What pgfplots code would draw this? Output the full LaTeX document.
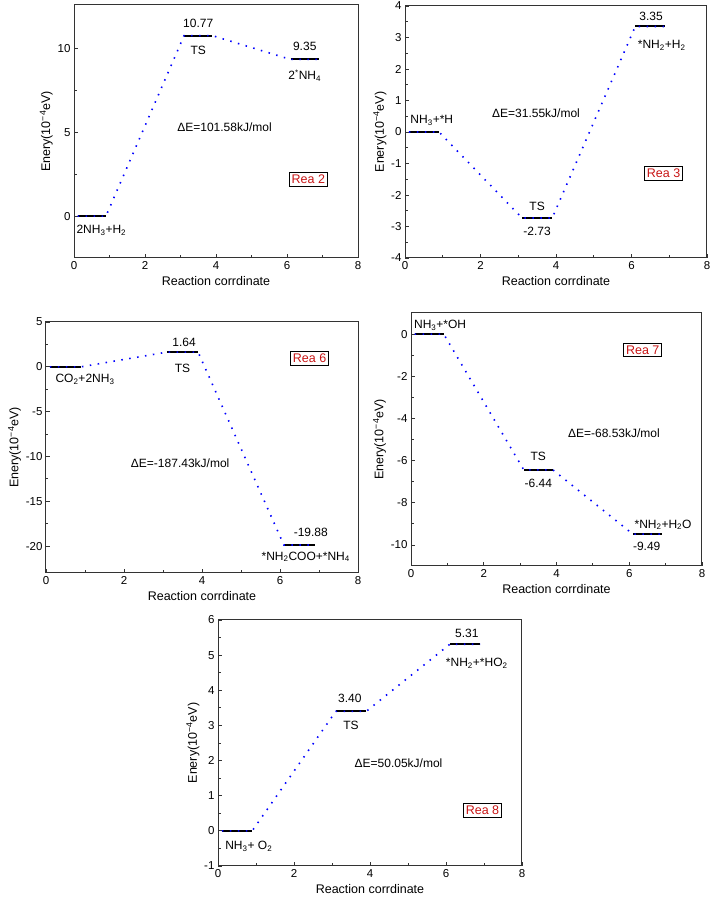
\documentclass[border=0pt]{standalone}
\usepackage{fontspec}
\setmainfont{Liberation Sans}
\usepackage{pgfplots}
\pgfplotsset{compat=1.18}
\definecolor{reared}{RGB}{200,20,20}
\pgfplotsset{
  rxn/.style={
    scale only axis, anchor=south west, clip=false,
    xmin=0, xmax=8, xtick={0,2,4,6,8}, minor x tick num=1, minor y tick num=1,
    tick pos=left, tick align=inside,
    major tick length=4pt, minor tick length=2.5pt,
    axis line style={line width=1pt, black!80},
    every tick/.style={black!80, line width=0.8pt},
    /pgf/number format/assume math mode=true,
    tick label style={font=\fontsize{11.5}{13}\selectfont},
    label style={font=\fontsize{12.5}{14}\selectfont},
    xlabel={Reaction corrdinate},
    ylabel={Enery(10\textsuperscript{−4}eV)},
    ylabel style={yshift=-2pt},
  },
  lev/.style={black, line width=2pt, forget plot},
  dots/.style={blue, line width=1.6pt, dash pattern=on 1.5pt off 6.5pt, forget plot},
}
\tikzset{
  lab/.style={font=\fontsize{12}{14}\selectfont, inner sep=0pt},
  rea/.style={draw=black, line width=1pt, text=reared, font=\fontsize{12.5}{14}\selectfont, inner sep=2.5pt},
}
\begin{document}
\begin{tikzpicture}
\useasboundingbox (0pt,0pt) rectangle (710pt,905pt);

% ---------- Rea 2 ----------
\begin{axis}[rxn, at={(74pt,647pt)}, width=284pt, height=253pt,
  ymin=-2.5, ymax=12.6, ytick={0,5,10}]
\addplot[lev] coordinates {(0.1,0)(0.9,0)};
\addplot[lev] coordinates {(3.1,10.77)(3.9,10.77)};
\addplot[lev] coordinates {(6.1,9.35)(6.9,9.35)};
\addplot[dots] coordinates {(0.1,0)(0.9,0)(3.1,10.77)(3.9,10.77)(6.1,9.35)(6.9,9.35)};
\node[lab] at (axis cs:3.5,11.53) {10.77};
\node[lab] at (axis cs:3.5,9.9) {TS};
\node[lab] at (axis cs:6.5,10.14) {9.35};
\node[lab] at (axis cs:6.5,8.4) {2\textsuperscript{*}NH\textsubscript{4}};
\node[lab] at (axis cs:0.77,-0.83) {2NH\textsubscript{3}+H\textsubscript{2}};
\node[lab] at (axis cs:4.24,5.3) {ΔE=101.58kJ/mol};
\node[rea] at (axis cs:6.6,2.2) {Rea 2};
\end{axis}

% ---------- Rea 3 ----------
\begin{axis}[rxn, at={(405pt,647pt)}, width=302pt, height=252pt,
  ymin=-4, ymax=4, ytick={-4,-3,-2,-1,0,1,2,3,4}]
\addplot[lev] coordinates {(0.1,0)(0.9,0)};
\addplot[lev] coordinates {(3.1,-2.73)(3.9,-2.73)};
\addplot[lev] coordinates {(6.1,3.35)(6.9,3.35)};
\addplot[dots] coordinates {(0.1,0)(0.9,0)(3.1,-2.73)(3.9,-2.73)(6.1,3.35)(6.9,3.35)};
\node[lab] at (axis cs:6.52,3.68) {3.35};
\node[lab] at (axis cs:6.8,2.76) {*NH\textsubscript{2}+H\textsubscript{2}};
\node[lab] at (axis cs:0.71,0.38) {NH\textsubscript{3}+*H};
\node[lab] at (axis cs:3.5,-2.37) {TS};
\node[lab] at (axis cs:3.5,-3.16) {-2.73};
\node[lab] at (axis cs:3.47,0.61) {ΔE=31.55kJ/mol};
\node[rea] at (axis cs:6.85,-1.31) {Rea 3};
\end{axis}

% ---------- Rea 6 ----------
\begin{axis}[rxn, at={(46pt,332pt)}, width=312pt, height=251pt,
  ymin=-23, ymax=5, ytick={-20,-15,-10,-5,0,5}]
\addplot[lev] coordinates {(0.1,0)(0.9,0)};
\addplot[lev] coordinates {(3.1,1.64)(3.9,1.64)};
\addplot[lev] coordinates {(6.1,-19.88)(6.9,-19.88)};
\addplot[dots] coordinates {(0.1,0)(0.9,0)(3.1,1.64)(3.9,1.64)(6.1,-19.88)(6.9,-19.88)};
\node[lab] at (axis cs:3.54,2.78) {1.64};
\node[lab] at (axis cs:3.5,-0.2) {TS};
\node[lab] at (axis cs:1.0,-1.37) {CO\textsubscript{2}+2NH\textsubscript{3}};
\node[lab] at (axis cs:6.79,-18.5) {-19.88};
\node[lab] at (axis cs:6.66,-21.2) {*NH\textsubscript{2}COO+*NH\textsubscript{4}};
\node[lab] at (axis cs:3.44,-10.7) {ΔE=-187.43kJ/mol};
\node[rea] at (axis cs:6.76,0.93) {Rea 6};
\end{axis}

% ---------- Rea 7 ----------
\begin{axis}[rxn, at={(411pt,339pt)}, width=291pt, height=253pt,
  ymin=-11, ymax=1, ytick={-10,-8,-6,-4,-2,0}]
\addplot[lev] coordinates {(0.1,0)(0.9,0)};
\addplot[lev] coordinates {(3.1,-6.44)(3.9,-6.44)};
\addplot[lev] coordinates {(6.1,-9.49)(6.9,-9.49)};
\addplot[dots] coordinates {(0.1,0)(0.9,0)(3.1,-6.44)(3.9,-6.44)(6.1,-9.49)(6.9,-9.49)};
\node[lab] at (axis cs:0.8,0.4) {NH\textsubscript{3}+*OH};
\node[lab] at (axis cs:3.5,-5.8) {TS};
\node[lab] at (axis cs:3.5,-7.06) {-6.44};
\node[lab] at (axis cs:6.93,-9.05) {*NH\textsubscript{2}+H\textsubscript{2}O};
\node[lab] at (axis cs:6.48,-10.08) {-9.49};
\node[lab] at (axis cs:5.58,-4.71) {ΔE=-68.53kJ/mol};
\node[rea] at (axis cs:6.37,-0.75) {Rea 7};
\end{axis}

% ---------- Rea 8 ----------
\begin{axis}[rxn, at={(218pt,39pt)}, width=304pt, height=246pt,
  ymin=-1, ymax=6, ytick={-1,0,1,2,3,4,5,6}]
\addplot[lev] coordinates {(0.1,0)(0.9,0)};
\addplot[lev] coordinates {(3.1,3.40)(3.9,3.40)};
\addplot[lev] coordinates {(6.1,5.31)(6.9,5.31)};
\addplot[dots] coordinates {(0.1,0)(0.9,0)(3.1,3.40)(3.9,3.40)(6.1,5.31)(6.9,5.31)};
\node[lab] at (axis cs:6.55,5.62) {5.31};
\node[lab] at (axis cs:6.81,4.77) {*NH\textsubscript{2}+*HO\textsubscript{2}};
\node[lab] at (axis cs:3.47,3.77) {3.40};
\node[lab] at (axis cs:3.5,2.99) {TS};
\node[lab] at (axis cs:4.75,1.92) {ΔE=50.05kJ/mol};
\node[lab] at (axis cs:0.81,-0.43) {NH\textsubscript{3}+ O\textsubscript{2}};
\node[rea] at (axis cs:6.96,0.59) {Rea 8};
\end{axis}
\end{tikzpicture}
\end{document}
